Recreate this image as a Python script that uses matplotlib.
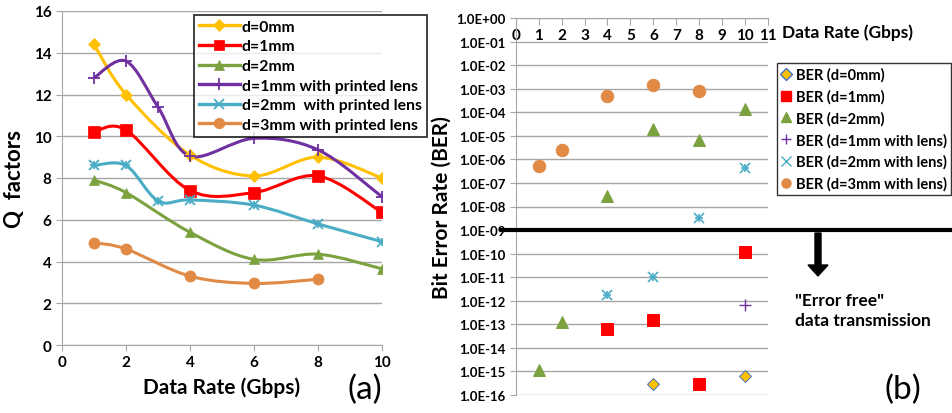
import matplotlib
matplotlib.use("Agg")
import matplotlib.pyplot as plt
from matplotlib.path import Path
from matplotlib.patches import PathPatch
from matplotlib.lines import Line2D
import matplotlib.transforms as mtransforms
import numpy as np

plt.rcParams['font.family'] = ['Lato', 'DejaVu Sans']
plt.rcParams['font.weight'] = 'bold'

# (a) Q factors vs data rate
q_labels = ['d=0mm', 'd=1mm', 'd=2mm', 'd=1mm with printed lens',
            'd=2mm  with printed lens', 'd=3mm with printed lens']
q_x_d0 = [1, 2, 4, 6, 8, 10]
q_d0 = [14.4, 12.0, 9.1, 8.1, 9.0, 8.0]
q_x_d1 = [1, 2, 4, 6, 8, 10]
q_d1 = [10.2, 10.3, 7.4, 7.3, 8.1, 6.35]
q_x_d2 = [1, 2, 4, 6, 8, 10]
q_d2 = [7.9, 7.3, 5.4, 4.1, 4.35, 3.65]
q_x_l1 = [1, 2, 3, 4, 6, 8, 10]
q_l1 = [12.8, 13.6, 11.4, 9.05, 9.9, 9.35, 7.1]
q_x_l2 = [1, 2, 3, 4, 6, 8, 10]
q_l2 = [8.6, 8.6, 6.9, 6.95, 6.7, 5.8, 4.95]
q_x_l3 = [1, 2, 4, 6, 8]
q_l3 = [4.9, 4.6, 3.3, 2.95, 3.15]

# (b) BER vs data rate
ber_labels = ['BER (d=0mm)', 'BER (d=1mm)', 'BER (d=2mm)', 'BER (d=1mm with lens)',
              'BER (d=2mm with lens)', 'BER (d=3mm with lens)']
ber_x_d0 = [6, 10]
ber_d0 = [2.8e-16, 6.3e-16]
ber_x_d1 = [4, 6, 8, 10]
ber_d1 = [6.1e-14, 1.6e-13, 2.8e-16, 1.2e-10]
ber_x_d2 = [1, 2, 4, 6, 8, 10]
ber_d2 = [1.2e-15, 1.26e-13, 2.8e-8, 2.0e-5, 6.8e-6, 1.35e-4]
ber_x_l1 = [10]
ber_l1 = [6.3e-13]
ber_x_l2 = [4, 6, 8, 10]
ber_l2 = [1.7e-12, 1.05e-11, 3.1e-9, 4.1e-7]
ber_x_l3 = [1, 2, 4, 6, 8]
ber_l3 = [5e-7, 2.45e-6, 4.7e-4, 1.47e-3, 8.2e-4]

yellow = '#FFC000'
red = '#FF0000'
green = '#7BA23F'
purple = '#7030A0'
teal = '#4BACC6'
orange = '#E08A45'


def smooth_path(xs, ys):
    # Bezier path through the points, like Excel's smoothed lines
    pts = np.column_stack([xs, ys]).astype(float)
    n = len(pts)
    verts = [pts[0]]
    codes = [Path.MOVETO]
    for i in range(n - 1):
        p0 = pts[i - 1] if i > 0 else pts[i]
        p1 = pts[i]
        p2 = pts[i + 1]
        p3 = pts[i + 2] if i + 2 < n else pts[i + 1]
        c1 = p1 + (p2 - p0) / 6.0
        c2 = p2 - (p3 - p1) / 6.0
        verts += [c1, c2, p2]
        codes += [Path.CURVE4] * 3
    return Path(verts, codes)


fig = plt.figure(figsize=(9.52, 4.14), dpi=100)
W, H = 952.0, 414.0

# ---------- panel (a) ----------
ax1 = fig.add_axes([62 / W, 1 - 346 / H, 320 / W, 334 / H])
series_a = [(q_x_d0, q_d0, yellow, 'D', 6), (q_x_d1, q_d1, red, 's', 8),
            (q_x_d2, q_d2, green, '^', 7), (q_x_l1, q_l1, purple, '+', 9),
            (q_x_l2, q_l2, teal, 'x', 7), (q_x_l3, q_l3, orange, 'o', 8)]
handles = []
for (xs, ys, c, m, ms), lab in zip(series_a, q_labels):
    ax1.add_patch(PathPatch(smooth_path(xs, ys), fill=False, edgecolor=c, lw=2.2, zorder=3))
    if m == 'x':
        ax1.plot(xs, ys, ls='none', marker='x', color=c, ms=ms, mew=1.3, zorder=4)
        ax1.plot(xs, ys, ls='none', marker='+', color=c, ms=ms * 0.9, mew=1.3, zorder=4)
    else:
        ax1.plot(xs, ys, ls='none', marker=m, color=c, ms=ms, mew=1.3 if m == '+' else 0.5, zorder=4)
    handles.append(Line2D([], [], color=c, lw=2.4, marker=m, ms=ms * 0.95, mew=1.3 if m in '+x' else 0.5))

ax1.set_xlim(0, 10)
ax1.set_ylim(0, 16)
ax1.set_xticks(range(0, 11, 2))
ax1.set_yticks(range(0, 17, 2))
ax1.grid(axis='y', color='#A6A6A6', lw=1)
ax1.set_axisbelow(True)
for s in ['top', 'right']:
    ax1.spines[s].set_visible(False)
for s in ['left', 'bottom']:
    ax1.spines[s].set_color('#A6A6A6')
ax1.tick_params(colors='#A6A6A6', labelcolor='black', labelsize=11, length=4)
ax1.set_xlabel('Data Rate (Gbps)', fontsize=15, fontweight='bold', labelpad=5)
ax1.set_ylabel('Q  factors', fontsize=16, fontweight='bold', labelpad=6)
leg1 = fig.legend(handles, q_labels, loc='upper left', bbox_to_anchor=(194 / W, 1 - 16 / H),
                  fontsize=11.3, frameon=True, fancybox=False, handlelength=2.6,
                  handletextpad=0.15, borderpad=0.3, labelspacing=0.36, borderaxespad=0)
leg1.get_frame().set_edgecolor('black')
leg1.get_frame().set_linewidth(1.3)
fig.text(365 / W, 1 - 390 / H, '(a)', fontsize=24, fontweight='normal', ha='center', va='center')

# ---------- panel (b) ----------
ax2 = fig.add_axes([515.7 / W, 1 - 396 / H, 252.3 / W, 377 / H])
series_b = [(ber_x_d0, ber_d0, yellow, 'D', 6, '#4472C4'), (ber_x_d1, ber_d1, red, 's', 8, red),
            (ber_x_d2, ber_d2, green, '^', 8, green), (ber_x_l1, ber_l1, purple, '+', 9, purple),
            (ber_x_l2, ber_l2, teal, 'x', 7, teal), (ber_x_l3, ber_l3, orange, 'o', 9, orange)]
handles2 = []
for (xs, ys, c, m, ms, ec), lab in zip(series_b, ber_labels):
    if m == 'x':
        ax2.plot(xs, ys, ls='none', marker='x', color=c, ms=ms, mew=1.2, zorder=4)
        ax2.plot(xs, ys, ls='none', marker='+', color=c, ms=ms * 0.9, mew=1.2, zorder=4)
    elif m == '+':
        ax2.plot(xs, ys, ls='none', marker='+', color=c, ms=ms, mew=1.0, zorder=4)
    else:
        ax2.plot(xs, ys, ls='none', marker=m, mfc=c, mec=ec, ms=ms, mew=0.7, zorder=4)
    handles2.append(Line2D([], [], ls='none', marker=m, mfc=c, mec=ec, color=c, ms=6.5, mew=1.0))

ax2.set_yscale('log')
ax2.set_ylim(1e-16, 1e0)
ax2.set_xlim(0, 11)
ax2.set_yticks([10.0 ** e for e in range(-16, 1)])
ax2.set_yticklabels(['1.0E%s%02d' % ('+' if e >= 0 else '-', abs(e)) for e in range(-16, 1)])
ax2.yaxis.set_minor_locator(matplotlib.ticker.NullLocator())
ax2.set_xticks(range(0, 12))
ax2.xaxis.tick_top()
ax2.tick_params(axis='x', direction='in', pad=-17, length=5, colors='#A6A6A6',
                labelcolor='black', labelsize=11)
ax2.tick_params(axis='y', length=4, colors='#A6A6A6', labelcolor='black', labelsize=9.5)
ax2.grid(axis='y', color='#A6A6A6', lw=1)
ax2.set_axisbelow(True)
for s in ['bottom', 'right']:
    ax2.spines[s].set_visible(False)
for s in ['left', 'top']:
    ax2.spines[s].set_color('#A6A6A6')
ax2.set_ylabel('Bit Error Rate (BER)', fontsize=15, fontweight='bold', labelpad=3)
fig.text(782 / W, 1 - 33 / H, 'Data Rate (Gbps)', fontsize=12.5, fontweight='bold', va='center')

leg2 = fig.legend(handles2, ber_labels, loc='upper left', bbox_to_anchor=(777 / W, 1 - 64 / H),
                  fontsize=10.5, frameon=True, fancybox=False, handlelength=0.7,
                  handletextpad=0.3, borderpad=0.3, labelspacing=0.5, borderaxespad=0)
leg2.get_frame().set_edgecolor('black')
leg2.get_frame().set_linewidth(1.0)

# error-free threshold line and arrow
blend = mtransforms.blended_transform_factory(fig.transFigure, ax2.transData)
fig.add_artist(Line2D([502 / W, 1.0], [1e-9, 1e-9], transform=blend, color='black', lw=3))
fig.add_artist(matplotlib.patches.FancyArrow(818 / W, 1 - 234 / H, 0, -32 / H, width=6 / W,
                                             head_width=20 / W, head_length=11 / H,
                                             length_includes_head=False, color='black',
                                             transform=fig.transFigure))
fig.text(795 / W, 1 - 311 / H, '"Error free"\ndata transmission', fontsize=12.5,
         fontweight='bold', va='center', ha='left', linespacing=1.25)
fig.text(903 / W, 1 - 390 / H, '(b)', fontsize=24, fontweight='normal', ha='center', va='center')

fig.savefig('out.png', dpi=100)
